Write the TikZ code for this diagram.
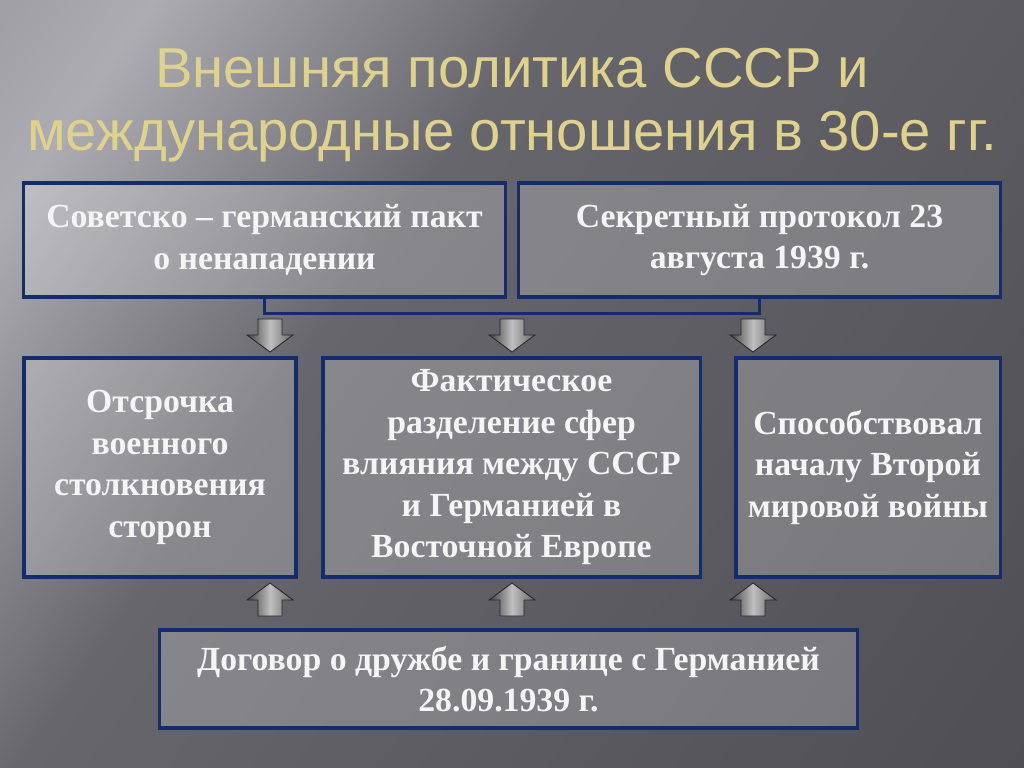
\documentclass[tikz,border=0pt]{standalone}
\usepackage{fontspec}
\setmainfont{Liberation Serif}
\newfontfamily\titlefont{Liberation Sans}
\usetikzlibrary{positioning}
\definecolor{boxblue}{RGB}{20,44,108}
\definecolor{titlegold}{RGB}{222,210,142}
\definecolor{bgdark}{RGB}{70,70,76}
\definecolor{bgmid}{RGB}{128,128,134}
\definecolor{bgmidb}{RGB}{102,102,108}
\definecolor{bglight}{RGB}{172,172,178}
\pgfdeclarehorizontalshading{slidebg}{100bp}{color(0bp)=(bgmid); color(22bp)=(bglight); color(40bp)=(bgmidb); color(100bp)=(bgdark)}
\tikzset{
  box/.style={draw=boxblue,line width=2.2pt,fill=white,fill opacity=0.22,
    text opacity=1,text=white!96!black,align=center,inner sep=2pt,
    font=\fontsize{24}{29.5}\selectfont\bfseries},
  bracket/.style={draw=boxblue,line width=2.2pt},
  arrowfill/.style={draw=black!85,line width=0.6pt,left color=black!75,
    right color=black!60,middle color=black!25},
  titletext/.style={text=titlegold,align=center,
    font=\titlefont\fontsize{40}{45}\selectfont},
  downarrow/.pic={\draw[arrowfill] (-12,0) -- (12,0) -- (12,16) -- (23,16)
    -- (0,33) -- (-23,16) -- (-12,16) -- cycle;},
  uparrow/.pic={\draw[arrowfill] (-12,0) -- (12,0) -- (12,-16) -- (23,-16)
    -- (0,-33) -- (-23,-16) -- (-12,-16) -- cycle;}
}
\begin{document}
\begin{tikzpicture}[x=0.025cm,y=-0.025cm]
% background
\shade[shading=slidebg,shading angle=-35] (0,0) rectangle (1024,768);
\useasboundingbox (0,0) rectangle (1024,768);
\node[titletext] (title) at (512,105) {Внешняя политика СССР и\\международные отношения в 30-е гг.};
% top row
\node[box,minimum width=12.025cm,minimum height=2.85cm] (pact) at (264.5,240)
  {Советско – германский пакт\\о ненападении};
\node[box,minimum width=12.025cm,minimum height=2.85cm] (protocol) at (759.5,240)
  {Секретный протокол 23\\августа 1939 г.};
\draw[bracket] (pact.south) -- ++(0,15) -| (protocol.south);
% middle row
\node[box,minimum width=6.8cm,minimum height=5.475cm] (delay) at (160,467.5)
  {Отсрочка\\военного\\столкновения\\сторон};
\node[box,minimum width=9.425cm,minimum height=5.475cm] (spheres) at (511.5,467.5)
  {Фактическое\\разделение сфер\\влияния между СССР\\и Германией в\\Восточной Европе};
\node[box,minimum width=6.6cm,minimum height=5.475cm] (war) at (868,467.5)
  {Способствовал\\началу Второй\\мировой войны};
% bottom row
\node[box,minimum width=17.425cm,minimum height=2.45cm] (treaty) at (508.5,679)
  {Договор о дружбе и границе с Германией\\28.09.1939 г.};
% block arrows
\foreach \xa in {270,512,753}{
  \pic at (\xa,319) {downarrow};
  \pic at (\xa,616) {uparrow};
}
\end{tikzpicture}
\end{document}
